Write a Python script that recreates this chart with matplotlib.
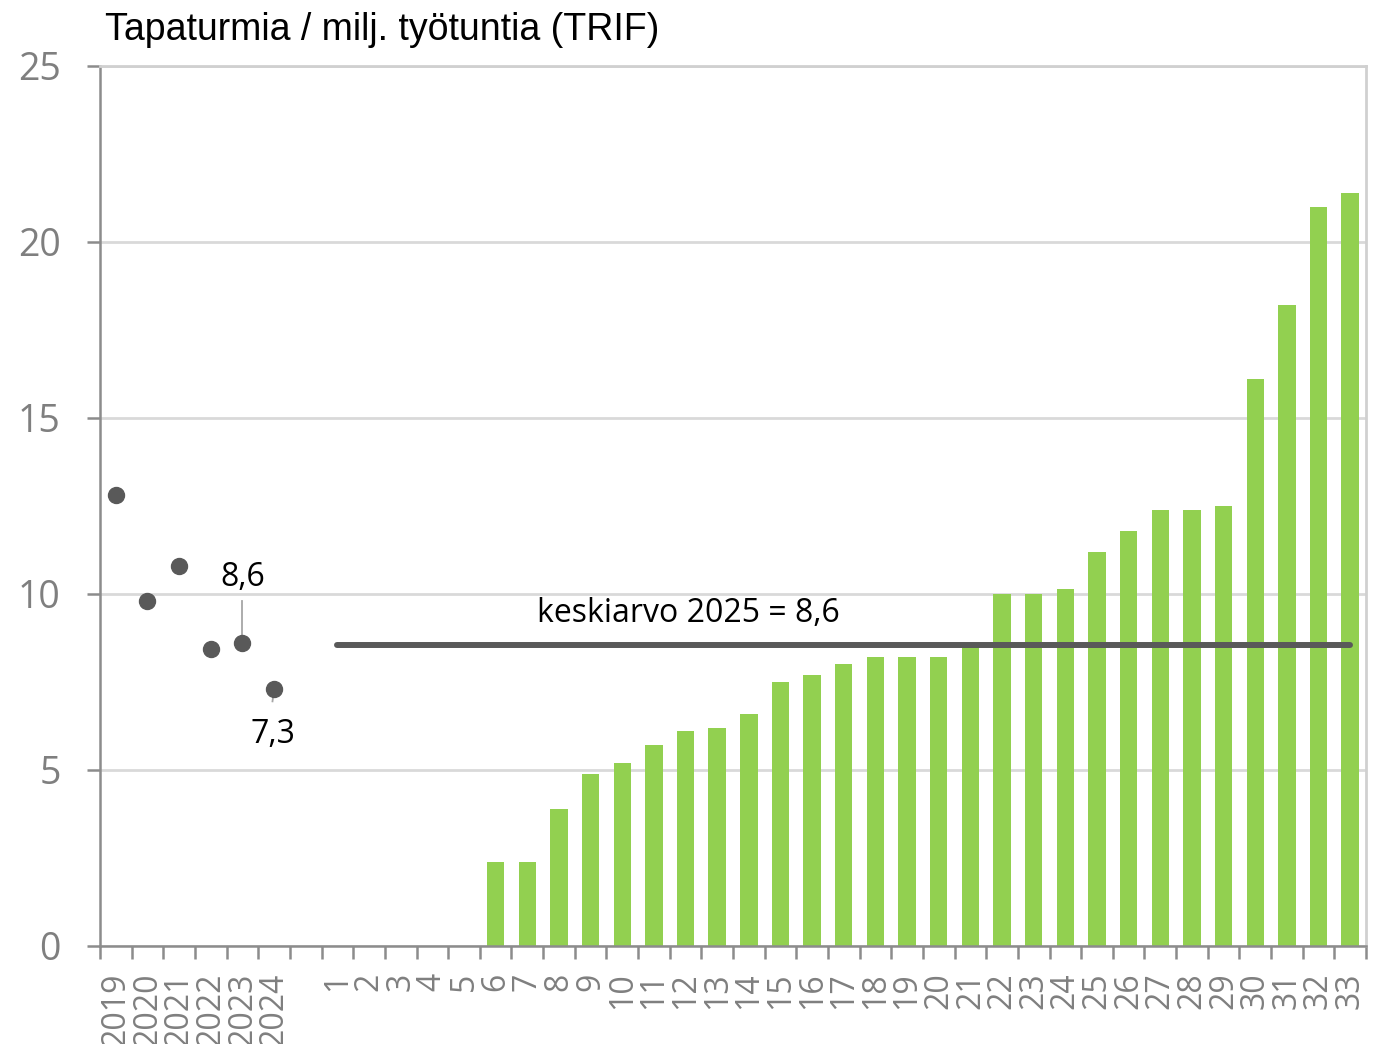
import numpy as np
import matplotlib
matplotlib.use('Agg')
import matplotlib.pyplot as plt

# vuodet 2019-2024 (pisteet)
vuodet = ['2019', '2020', '2021', '2022', '2023', '2024']
vuosi_arvot = [12.8, 9.8, 10.8, 8.45, 8.6, 7.3]

# yksiköt 1-33 (pylväät)
yksikot = [str(i) for i in range(1, 34)]
yksikko_arvot = [0, 0, 0, 0, 0, 2.4, 2.4, 3.9, 4.9, 5.2, 5.7, 6.1, 6.2, 6.6,
                 7.5, 7.7, 8.0, 8.2, 8.2, 8.2, 8.5, 10.0, 10.0, 10.15, 11.2,
                 11.8, 12.4, 12.4, 12.5, 16.1, 18.2, 21.0, 21.4]
keskiarvo = 8.55
keskiarvo_teksti = 'keskiarvo 2025 = 8,6'
otsikko = 'Tapaturmia / milj. työtuntia (TRIF)'

labels = vuodet + [''] + yksikot
n = len(labels)
x_vuodet = np.arange(len(vuodet))
x_yksikot = np.arange(len(vuodet) + 1, n)

W, H = 1382, 1044
fig = plt.figure(figsize=(W / 100, H / 100), dpi=100)
ax = fig.add_axes([100 / W, 98 / H, 1266 / W, 880 / H])

fnt = 'Open Sans'
grid_c = '#D9D9D9'
tick_c = '#7F7F7F'
viiva_c = '#A6A6A6'

ax.set_xlim(-0.5, n - 0.5)
ax.set_ylim(0, 25)
ax.set_yticks([0, 5, 10, 15, 20, 25])
ax.yaxis.grid(True, color=grid_c, linewidth=2)
ax.set_axisbelow(True)

ax.bar(x_yksikot, yksikko_arvot, width=0.55, color='#92D050', zorder=2)
ax.plot(x_vuodet, vuosi_arvot, 'o', color='#595959', markersize=11.5, zorder=3)
ax.plot([x_yksikot[0], x_yksikot[-1]], [keskiarvo, keskiarvo], color='#595959',
        linewidth=4.3, solid_capstyle='round', zorder=4)

ax.text(18.1, 9.2, keskiarvo_teksti, ha='center', va='baseline',
        fontsize=23, family=fnt, color='black')

# arvomerkinnät 2023 ja 2024
ax.plot([4, 4], [vuosi_arvot[4], 9.8], color=viiva_c, lw=1.3, zorder=2)
ax.text(4, 10.23, '8,6', ha='center', va='baseline', fontsize=23, family=fnt)
ax.plot([5, 4.95], [vuosi_arvot[5], 6.95], color=viiva_c, lw=1.3, zorder=2)
ax.text(4.95, 5.77, '7,3', ha='center', va='baseline', fontsize=23, family=fnt)

# akselit
for s in ['left', 'bottom']:
    ax.spines[s].set_color('#8C8C8C')
    ax.spines[s].set_linewidth(1.8)
for s in ['top', 'right']:
    ax.spines[s].set_color('#D0D0D0')
    ax.spines[s].set_linewidth(2)

ax.set_xticks(np.arange(n))
ax.set_xticklabels(labels, rotation=90, family=fnt, fontsize=23, color=tick_c)
ax.set_xticks(np.arange(n + 1) - 0.5, minor=True)
ax.tick_params(axis='x', which='major', length=0, pad=19)
ax.tick_params(axis='x', which='minor', length=9, width=1.8, color='#8C8C8C')
ax.tick_params(axis='y', length=9.4, width=1.8, color='#8C8C8C', pad=19,
               labelsize=27, labelcolor=tick_c)
for t in ax.get_yticklabels():
    t.set_family(fnt)

fig.text(105 / W, 1 - 40 / H, otsikko, ha='left', va='baseline',
         fontsize=27, family='Liberation Sans', color='black')

fig.savefig('out.png', dpi=100)
plt.close(fig)
